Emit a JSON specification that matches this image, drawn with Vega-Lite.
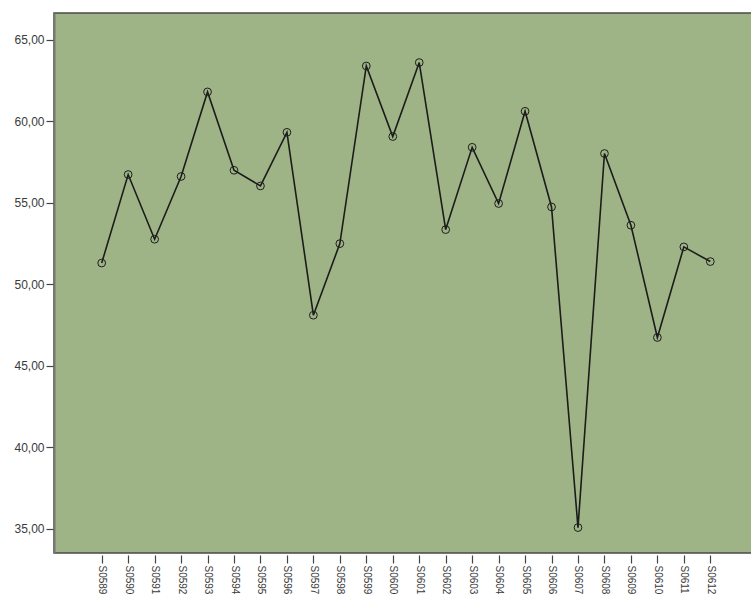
{
  "$schema": "https://vega.github.io/schema/vega-lite/v6.json",
  "autosize": {"type": "none"},
  "padding": {"left": 54, "top": 13, "right": 0, "bottom": 44},
  "width": 705,
  "height": 540,
  "background": "white",
  "config": {
    "view": {"fill": "#9fb486", "stroke": "#4a4a4a", "strokeWidth": 1.5},
    "font": "Liberation Sans",
    "axis": {"grid": false, "labelFont": "Liberation Sans", "labelFontSize": 12, "labelColor": "#3a3a3a", "domainColor": "#777777", "domainWidth": 2, "tickColor": "#444444", "tickSize": 8, "tickWidth": 1.2, "title": null}
  },
  "data": {
    "values": [
      {"id": "S0589", "v": 51.29},
      {"id": "S0590", "v": 56.72},
      {"id": "S0591", "v": 52.75},
      {"id": "S0592", "v": 56.60},
      {"id": "S0593", "v": 61.79},
      {"id": "S0594", "v": 56.98},
      {"id": "S0595", "v": 56.02},
      {"id": "S0596", "v": 59.31},
      {"id": "S0597", "v": 48.09},
      {"id": "S0598", "v": 52.48},
      {"id": "S0599", "v": 63.38},
      {"id": "S0600", "v": 59.05},
      {"id": "S0601", "v": 63.59},
      {"id": "S0602", "v": 53.34},
      {"id": "S0603", "v": 58.39},
      {"id": "S0604", "v": 54.94},
      {"id": "S0605", "v": 60.60},
      {"id": "S0606", "v": 54.73},
      {"id": "S0607", "v": 35.06},
      {"id": "S0608", "v": 58.01},
      {"id": "S0609", "v": 53.61},
      {"id": "S0610", "v": 46.72},
      {"id": "S0611", "v": 52.28},
      {"id": "S0612", "v": 51.38}
    ]
  },
  "encoding": {
    "x": {"field": "id", "type": "ordinal", "sort": null,
      "scale": {"type": "point", "range": [47.7, 656.3], "padding": 0},
      "axis": {"labelAngle": 90, "labelAlign": "left", "labelBaseline": "middle", "labelPadding": 2, "labelFontSize": 10, "domain": false, "offset": 2}},
    "y": {"field": "v", "type": "quantitative",
      "scale": {"domain": [33.5, 66.63], "nice": false, "zero": false},
      "axis": {"values": [35, 40, 45, 50, 55, 60, 65], "labelExpr": "replace(format(datum.value, '.2f'), '.', ',')", "labelPadding": 2}}
  },
  "layer": [
    {"mark": {"type": "line", "color": "#1c1c1c", "strokeWidth": 1.6}},
    {"mark": {"type": "point", "shape": "circle", "filled": false, "stroke": "#1c1c1c", "strokeWidth": 1, "size": 60, "opacity": 1}}
  ]
}
